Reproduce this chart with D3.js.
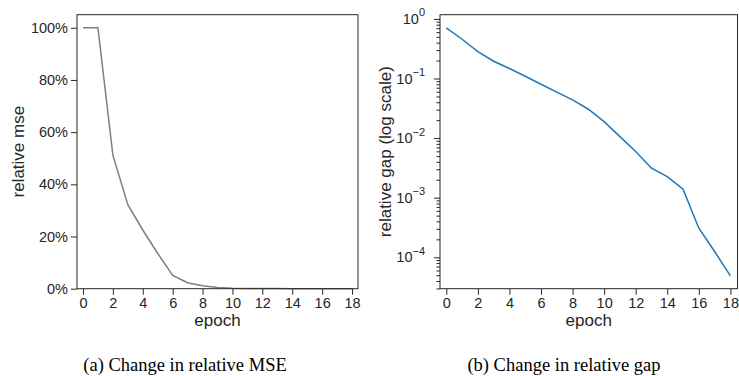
<!DOCTYPE html>
<html>
<head>
<meta charset="utf-8">
<script src="https://cdn.jsdelivr.net/npm/d3@7"></script>
<style>
  body { margin: 0; background: #fff; }
  svg { display: block; }
  .tick text { font-family: "Liberation Sans", Arial, sans-serif; font-size: 14.5px; fill: #262626; }
  .title { font-family: "Liberation Sans", Arial, sans-serif; font-size: 17px; fill: #262626; }
  .caption { font-family: "Liberation Serif", "Times New Roman", serif; font-size: 18.5px; fill: #000; }
</style>
</head>
<body>
<script>
const w = 739
const h = 376

// epochs shared by both panels
const epochs = [0, 1, 2, 3, 4, 5, 6, 7, 8, 9, 10, 11, 12, 13, 14, 15, 16, 17, 18]
const xTicks = [0, 2, 4, 6, 8, 10, 12, 14, 16, 18]

// (a) relative mse, as a fraction
const relMse = [1.0, 1.0, 0.512, 0.322, 0.225, 0.135, 0.051, 0.023, 0.011, 0.005,
                0.002, 0.001, 0.0005, 0.0003, 0.0002, 0.0001, 0.0001, 0.0001, 0.0001]
const mseTicks = [0, 0.2, 0.4, 0.6, 0.8, 1.0]

// (b) relative gap, log scale
const relGap = [0.706, 0.456, 0.283, 0.195, 0.147, 0.109, 0.080, 0.059, 0.0438, 0.0305,
                0.0189, 0.0106, 0.00594, 0.00313, 0.00226, 0.00139, 0.000308, 0.000125, 0.0000488]
const gapExps = [0, -1, -2, -3, -4]

const captions = ['(a) Change in relative MSE', '(b) Change in relative gap']

const svg = d3.select('body').append('svg')
    .attr('width', w)
    .attr('height', h)

const axisColor = '#262626'

function styleAxis (g) {
    g.select('.domain').remove()
    g.selectAll('.tick line').attr('stroke', axisColor).attr('stroke-width', 1)
}

function frame (x0, x1, y0, y1) {
    svg.append('rect')
        .attr('x', x0).attr('y', y0)
        .attr('width', x1 - x0).attr('height', y1 - y0)
        .attr('fill', 'none')
        .attr('stroke', axisColor)
        .attr('stroke-width', 1)
}

// ---------- panel (a) ----------
const a = { left: 77, right: 358, top: 14.7, bottom: 288.7 }

const xA = d3.scaleLinear().domain([-0.4, 18.4]).range([a.left, a.right])
const yA = d3.scaleLinear().domain([0, 1.05]).range([a.bottom, a.top])

svg.append('g')
    .attr('transform', `translate(0,${a.bottom})`)
    .call(d3.axisBottom(xA).tickValues(xTicks).tickSize(6).tickPadding(3).tickFormat(d3.format('d')))
    .call(styleAxis)

svg.append('g')
    .attr('transform', `translate(${a.left},0)`)
    .call(d3.axisLeft(yA).tickValues(mseTicks).tickSize(6).tickPadding(3).tickFormat(d3.format('.0%')))
    .call(styleAxis)

const lineA = d3.line()
    .x(function (d, i) { return xA(epochs[i]) })
    .y(function (d) { return yA(d) })

svg.append('path')
    .attr('d', lineA(relMse))
    .attr('fill', 'none')
    .attr('stroke', '#7f7f7f')
    .attr('stroke-width', 1.5)

frame(a.left, a.right, a.top, a.bottom)

svg.append('text').attr('class', 'title')
    .attr('x', (a.left + a.right) / 2).attr('y', 326)
    .attr('text-anchor', 'middle')
    .text('epoch')

svg.append('text').attr('class', 'title')
    .attr('transform', `translate(24,${(a.top + a.bottom) / 2}) rotate(-90)`)
    .attr('text-anchor', 'middle')
    .text('relative mse')

// ---------- panel (b) ----------
const b = { left: 440, right: 737.5, top: 14.7, bottom: 288.7 }

const xB = d3.scaleLinear().domain([-0.4, 18.45]).range([b.left, b.right])
const yB = d3.scaleLog().domain([Math.pow(10, -4.527), Math.pow(10, 0.0705)]).range([b.bottom, b.top])

svg.append('g')
    .attr('transform', `translate(0,${b.bottom})`)
    .call(d3.axisBottom(xB).tickValues(xTicks).tickSize(6).tickPadding(3).tickFormat(d3.format('d')))
    .call(styleAxis)

// minor log ticks
const minor = []
for (let e = -5; e <= 0; e++) {
    for (let m = 2; m <= 9; m++) {
        const v = m * Math.pow(10, e)
        if (v >= yB.domain()[0] && v <= yB.domain()[1]) minor.push(v)
    }
}
svg.append('g')
    .attr('transform', `translate(${b.left},0)`)
    .call(d3.axisLeft(yB).tickValues(minor).tickSize(3.5).tickFormat(''))
    .call(styleAxis)

const yAxisB = svg.append('g')
    .attr('transform', `translate(${b.left},0)`)
    .call(d3.axisLeft(yB).tickValues(gapExps.map(function (e) { return Math.pow(10, e) })).tickSize(6).tickPadding(9).tickFormat(''))
    .call(styleAxis)

yAxisB.selectAll('.tick text')
    .attr('dy', '0.32em')
    .each(function (d) {
        const t = d3.select(this)
        const e = Math.round(Math.log10(d))
        t.append('tspan').text('10')
        t.append('tspan')
            .attr('dy', '-0.7em')
            .attr('font-size', '11px')
            .text(e === 0 ? '0' : '\u2212' + Math.abs(e))
    })

const lineB = d3.line()
    .x(function (d, i) { return xB(epochs[i]) })
    .y(function (d) { return yB(d) })

svg.append('path')
    .attr('d', lineB(relGap))
    .attr('fill', 'none')
    .attr('stroke', '#1f77b4')
    .attr('stroke-width', 1.5)

frame(b.left, b.right, b.top, b.bottom)

svg.append('text').attr('class', 'title')
    .attr('x', (b.left + b.right) / 2).attr('y', 326)
    .attr('text-anchor', 'middle')
    .text('epoch')

svg.append('text').attr('class', 'title')
    .attr('transform', `translate(391,${(b.top + b.bottom) / 2}) rotate(-90)`)
    .attr('text-anchor', 'middle')
    .text('relative gap (log scale)')

// ---------- captions ----------
svg.append('text').attr('class', 'caption')
    .attr('x', 185).attr('y', 371)
    .attr('text-anchor', 'middle')
    .text(captions[0])

svg.append('text').attr('class', 'caption')
    .attr('x', 564).attr('y', 371)
    .attr('text-anchor', 'middle')
    .text(captions[1])
</script>
</body>
</html>
